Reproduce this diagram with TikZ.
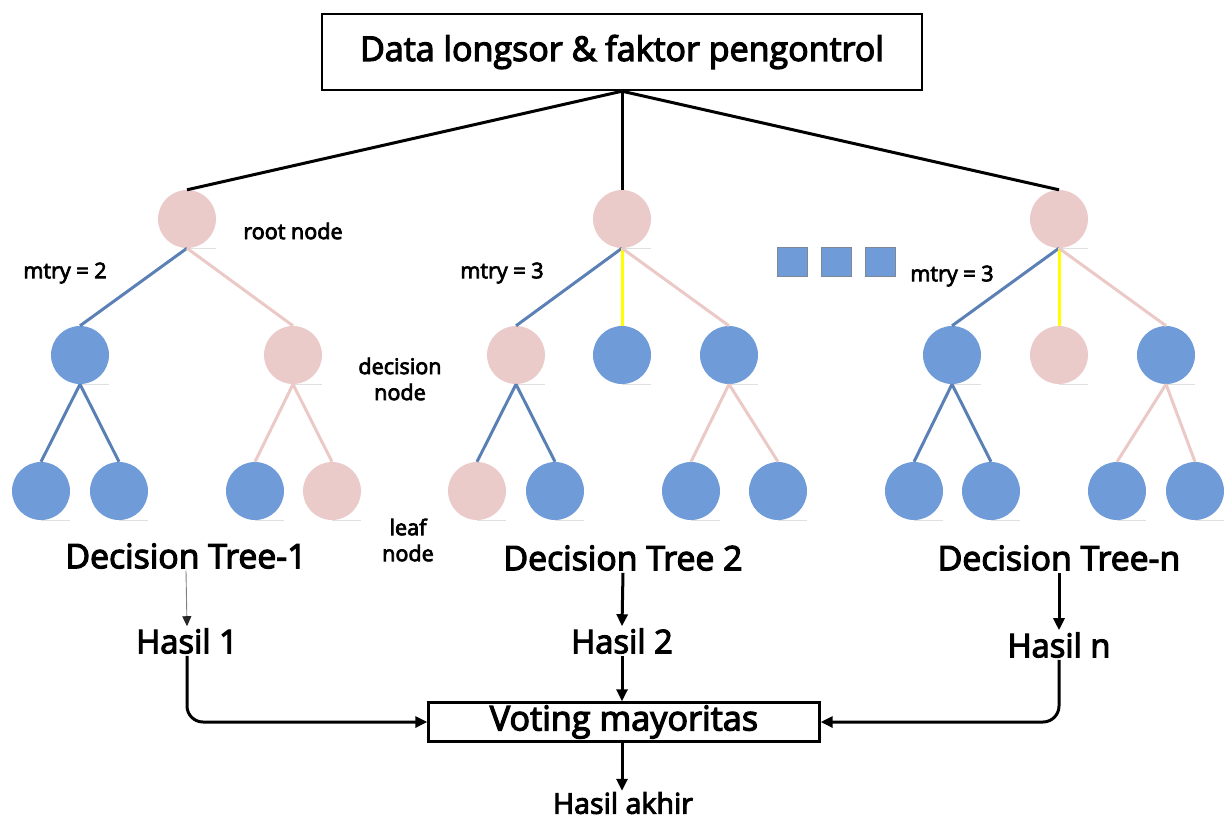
\documentclass[tikz,border=0pt]{standalone}
\usepackage{fontspec}
\setmainfont{Open Sans}
\newfontfamily\semi{Open Sans}[FakeBold=3.5]
\usetikzlibrary{arrows.meta}
\definecolor{cblue}{HTML}{6F9CD9}
\definecolor{cpink}{HTML}{EBCBCA}
\definecolor{eblue}{HTML}{5A80B5}
\definecolor{epink}{HTML}{EBC9C6}
\definecolor{eyellow}{HTML}{FFFF00}
\definecolor{sqborder}{HTML}{7D8897}
\tikzset{
  bn/.style={circle,fill=cblue,minimum size=58pt,inner sep=0pt},
  pn/.style={circle,fill=cpink,minimum size=58pt,inner sep=0pt},
  be/.style={draw=eblue,line width=3pt},
  pe/.style={draw=epink,line width=3pt},
  ye/.style={draw=eyellow,line width=3pt},
  trunk/.style={draw=black,line width=3pt},
  arr/.style={draw=black,line width=3pt,-{Triangle[length=12pt,width=11pt]}},
  thinarr/.style={draw=gray,line width=0.9pt,-{Triangle[length=10pt,width=9pt,color=black!85]}},
  boxed/.style={draw=black,line width=2.4pt,inner sep=0pt},
  big/.style={font=\semi\fontsize{33.8}{40}\selectfont,inner sep=2pt},
  mid/.style={font=\semi\fontsize{32.7}{38}\selectfont,inner sep=2pt},
  small/.style={font=\semi\fontsize{21.6}{26}\selectfont,inner sep=0pt,align=center},
  sq/.style={draw=sqborder,line width=1pt,fill=cblue,minimum width=30pt,minimum height=29pt,inner sep=0pt},
  shade/.style={draw=black!12,line width=0.8pt}
}
\begin{document}
\begin{tikzpicture}[x=1pt,y=-1pt]
\useasboundingbox (0,0) rectangle (1224,820);
% top box
\node[boxed,minimum width=600pt,minimum height=76pt,font=\semi\fontsize{34}{40}\selectfont] (top) at (622,52) {Data longsor \& faktor pengontrol};
% tree 1
\node[pn] (r1) at (187,219) {};
\node[bn] (a1) at (80,355) {};
\node[pn] (b1) at (293,355) {};
\node[bn] (a1l) at (41,491) {};
\node[bn] (a1r) at (119,491) {};
\node[bn] (b1l) at (255,491) {};
\node[pn] (b1r) at (332,491) {};
% tree 2
\node[pn] (r2) at (622,219) {};
\node[pn] (a2) at (516,355) {};
\node[bn] (m2) at (622,355) {};
\node[bn] (b2) at (729,355) {};
\node[pn] (a2l) at (477,491) {};
\node[bn] (a2r) at (555,491) {};
\node[bn] (b2l) at (691,491) {};
\node[bn] (b2r) at (778,491) {};
% tree 3
\node[pn] (r3) at (1059,219) {};
\node[bn] (a3) at (952,355) {};
\node[pn] (m3) at (1059,355) {};
\node[bn] (b3) at (1166,355) {};
\node[bn] (a3l) at (914,491) {};
\node[bn] (a3r) at (991,491) {};
\node[bn] (b3l) at (1117,491) {};
\node[bn] (b3r) at (1195,491) {};
% faint baselines under circles
\foreach \n in {r1,a1,b1,a1l,a1r,b1l,b1r,r2,a2,m2,b2,a2l,a2r,b2l,b2r,r3,a3,m3,b3,a3l,a3r,b3l,b3r}
  \draw[shade] (\n.south) -- ++(29,0);
% trunk lines
\draw[trunk] (top.south) -- (r1.north);
\draw[trunk] (top.south) -- (r2.north);
\draw[trunk] (top.south) -- (r3.north);
% tree 1 edges
\draw[be] (r1.south) -- (a1.north);
\draw[pe] (r1.south) -- (b1.north);
\draw[be] (a1.south) -- (a1l.north);
\draw[be] (a1.south) -- (a1r.north);
\draw[pe] (b1.south) -- (b1l.north);
\draw[pe] (b1.south) -- (b1r.north);
% tree 2 edges
\draw[be] (r2.south) -- (a2.north);
\draw[ye] (r2.south) -- (m2.north);
\draw[pe] (r2.south) -- (b2.north);
\draw[be] (a2.south) -- (a2l.north);
\draw[be] (a2.south) -- (a2r.north);
\draw[pe] (b2.south) -- (b2l.north);
\draw[pe] (b2.south) -- (b2r.north);
% tree 3 edges
\draw[be] (r3.south) -- (a3.north);
\draw[ye] (r3.south) -- (m3.north);
\draw[pe] (r3.south) -- (b3.north);
\draw[be] (a3.south) -- (a3l.north);
\draw[be] (a3.south) -- (a3r.north);
\draw[pe] (b3.south) -- (b3l.north);
\draw[pe] (b3.south) -- (b3r.north);
% squares
\node[sq] (s1) at (792,262) {};
\node[sq] (s2) at (836,262) {};
\node[sq] (s3) at (880,262) {};
% small labels
\node[small] (lroot) at (293,231) {root node};
\node[small] (lm1) at (65,273) {mtry = 2};
\node[small] (lm2) at (502,273) {mtry = 3};
\node[small] (lm3) at (952,276) {mtry = 3};
\node[small] (ldec) at (400,379) {decision\\node};
\node[small] (lleaf) at (408,540) {leaf\\node};
% tree labels
\node[big] (t1) at (186,556) {Decision Tree-1};
\node[big] (t2) at (623,558) {Decision Tree 2};
\node[big] (t3) at (1059,558) {Decision Tree-n};
\node[mid] (h1) at (187,641) {Hasil 1};
\node[mid] (h2) at (622,641) {Hasil 2};
\node[mid] (h3) at (1059,645) {Hasil n};
\node[boxed,minimum width=391pt,minimum height=39pt,font=\semi\fontsize{34.2}{40}\selectfont] (vote) at (624,722) {Voting mayoritas};
\node[font=\semi\fontsize{28.6}{32}\selectfont,inner sep=1pt] (hak) at (623,803) {Hasil akhir};
% arrows
\draw[thinarr] (t1.south) -- (h1.north);
\draw[arr] (t2.south) -- (h2.north);
\draw[arr] (t3.south) -- (h3.north);
\draw[arr,rounded corners=16pt] (h1.south) |- (vote.west);
\draw[arr] (h2.south) -- (h2.south |- vote.north);
\draw[arr,rounded corners=16pt] (h3.south) |- (vote.east);
\draw[arr] (vote.south -| h2.south) -- (hak.north -| h2.south);
\end{tikzpicture}
\end{document}
